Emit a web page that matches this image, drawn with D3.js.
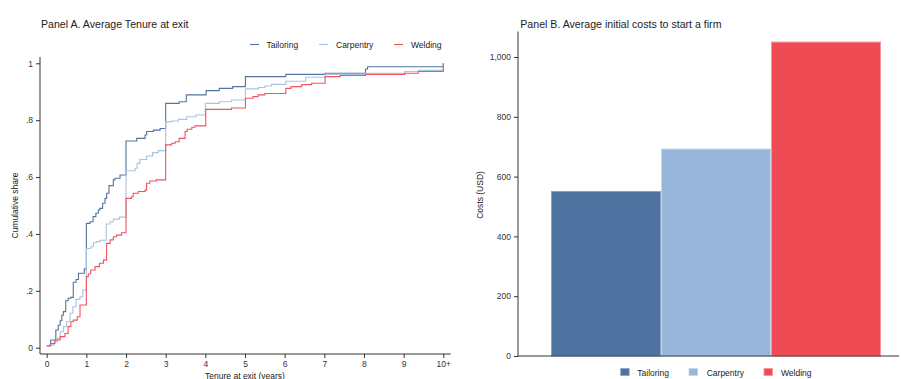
<!DOCTYPE html>
<html>
<head>
<meta charset="utf-8">
<script src="https://cdn.jsdelivr.net/npm/d3@7"></script>
<style>
  body { margin: 0; background: #fff; }
  svg { display: block; font-family: "Liberation Sans", Arial, sans-serif; }
</style>
</head>
<body>
<svg id="chart" width="901" height="379"></svg>
<script>
// Sectors and their colours
const sectors = ["Tailoring", "Carpentry", "Welding"];
const fillColors = ["#4e73a0", "#97b6d9", "#ef4b55"];
const lineColors = ["#52749f", "#a9c3e2", "#f0545c"];
const edgeColors = ["#8aa3c3", "#c4d6ec", "#f7959a"];

// Panel A: cumulative share of firms exited by tenure (years), step points [tenure, share]
const tailoringExit = [
  [0, 0.007], [0.10, 0.027], [0.23, 0.062], [0.29, 0.079], [0.34, 0.095], [0.38, 0.114],
  [0.42, 0.127], [0.48, 0.165], [0.54, 0.174], [0.61, 0.177], [0.67, 0.230], [0.74, 0.240],
  [0.80, 0.262], [0.95, 0.277], [1.00, 0.437], [1.09, 0.443], [1.17, 0.461], [1.24, 0.473],
  [1.30, 0.484], [1.34, 0.490], [1.41, 0.508], [1.47, 0.525], [1.51, 0.543], [1.57, 0.570],
  [1.68, 0.590], [1.72, 0.596], [1.85, 0.607], [2.00, 0.727], [2.27, 0.736], [2.48, 0.748],
  [2.52, 0.760], [2.69, 0.765], [2.86, 0.771], [3.00, 0.859], [3.34, 0.865], [3.52, 0.889],
  [4.02, 0.904], [4.35, 0.912], [4.69, 0.918], [5.01, 0.953], [6.03, 0.961], [7.02, 0.965],
  [8.04, 0.980], [8.09, 0.988], [10.0, 1.0]
];
const carpentryExit = [
  [0, 0.005], [0.08, 0.010], [0.19, 0.021], [0.27, 0.033], [0.34, 0.056], [0.42, 0.074],
  [0.50, 0.091], [0.59, 0.121], [0.66, 0.144], [0.74, 0.170], [0.84, 0.179], [0.91, 0.203],
  [1.00, 0.349], [1.11, 0.355], [1.18, 0.369], [1.25, 0.373], [1.34, 0.378], [1.50, 0.435],
  [1.60, 0.443], [1.68, 0.452], [1.83, 0.459], [2.00, 0.622], [2.23, 0.631], [2.28, 0.648],
  [2.35, 0.662], [2.52, 0.674], [2.67, 0.686], [2.81, 0.693], [3.00, 0.794], [3.15, 0.797],
  [3.32, 0.803], [3.53, 0.812], [3.76, 0.818], [4.00, 0.859], [4.35, 0.865], [4.66, 0.871],
  [5.01, 0.910], [5.34, 0.915], [5.50, 0.920], [5.67, 0.926], [6.03, 0.937], [6.53, 0.951],
  [7.02, 0.961], [8.04, 0.965], [9.03, 0.971], [9.37, 0.975], [10.0, 1.0]
];
const weldingExit = [
  [0, 0.007], [0.10, 0.015], [0.21, 0.027], [0.34, 0.039], [0.46, 0.050], [0.54, 0.074],
  [0.61, 0.091], [0.67, 0.097], [0.77, 0.109], [0.84, 0.150], [1.00, 0.250], [1.05, 0.259],
  [1.11, 0.273], [1.22, 0.285], [1.33, 0.297], [1.43, 0.308], [1.51, 0.367], [1.60, 0.379],
  [1.68, 0.390], [1.76, 0.396], [1.89, 0.404], [2.00, 0.525], [2.14, 0.531], [2.18, 0.543],
  [2.31, 0.549], [2.48, 0.554], [2.52, 0.578], [2.60, 0.586], [2.76, 0.590], [3.00, 0.713],
  [3.15, 0.719], [3.24, 0.724], [3.34, 0.736], [3.49, 0.760], [3.54, 0.768], [3.66, 0.775],
  [3.74, 0.780], [4.01, 0.838], [4.66, 0.843], [5.01, 0.877], [5.20, 0.883], [5.33, 0.889],
  [5.50, 0.894], [6.03, 0.912], [6.16, 0.918], [6.43, 0.925], [6.68, 0.930], [7.02, 0.953],
  [7.40, 0.957], [8.04, 0.961], [9.03, 0.965], [9.37, 0.971], [10.0, 1.0]
];
const tenureTicks = [0, 1, 2, 3, 4, 5, 6, 7, 8, 9, 10];
const tenureTickLabels = ["0", "1", "2", "3", "4", "5", "6", "7", "8", "9", "10+"];
const shareTicks = [0, 0.2, 0.4, 0.6, 0.8, 1];
const shareTickLabels = ["0", ".2", ".4", ".6", ".8", "1"];

// Panel B: average initial costs (USD)
const startupCosts = [550, 692, 1050];
const costTicks = [0, 200, 400, 600, 800, 1000];
const costTickLabels = ["0", "200", "400", "600", "800", "1,000"];

const svg = d3.select("#chart");
const axisColor = "#333";
const textColor = "#222";
const tickFont = "8.5px";

// ---------- Panel A ----------
const xA = d3.scaleLinear().domain([0, 10]).range([46.7, 443.3]);
const yA = d3.scaleLinear().domain([0, 1]).range([347.7, 63.3]);
const gA = svg.append("g");

gA.append("text").attr("x", 41).attr("y", 27.5)
  .attr("font-size", "10.6px").attr("fill", textColor)
  .text("Panel A. Average Tenure at exit");

// axes
const xAxisA = gA.append("g").attr("transform", "translate(0,354)")
  .call(d3.axisBottom(xA).tickValues(tenureTicks).tickSize(4).tickPadding(3)
    .tickFormat((d, i) => tenureTickLabels[i]));
const yAxisA = gA.append("g").attr("transform", "translate(40,0)")
  .call(d3.axisLeft(yA).tickValues(shareTicks).tickSize(4).tickPadding(3)
    .tickFormat((d, i) => shareTickLabels[i]));
[xAxisA, yAxisA].forEach(a => {
  a.select(".domain").remove();
  a.selectAll("line").attr("stroke", axisColor);
  a.selectAll("text").attr("fill", axisColor).attr("font-size", tickFont)
    .attr("font-family", "Liberation Sans, Arial, sans-serif");
});
gA.append("line").attr("x1", 40).attr("x2", 450.5).attr("y1", 354).attr("y2", 354)
  .attr("stroke", axisColor);
gA.append("line").attr("x1", 40).attr("x2", 40).attr("y1", 57).attr("y2", 354)
  .attr("stroke", axisColor);

gA.append("text").attr("x", 245).attr("y", 378.5).attr("text-anchor", "middle")
  .attr("font-size", tickFont).attr("fill", textColor).text("Tenure at exit (years)");
gA.append("text").attr("transform", "translate(18,205.5) rotate(-90)")
  .attr("text-anchor", "middle").attr("font-size", tickFont).attr("fill", textColor)
  .text("Cumulative share");

// step curves
const stepLine = d3.line().x(d => xA(d[0])).y(d => yA(d[1])).curve(d3.curveStepAfter);
[tailoringExit, carpentryExit, weldingExit].forEach((series, i) => {
  gA.append("path").attr("d", stepLine(series)).attr("fill", "none")
    .attr("stroke", lineColors[i]).attr("stroke-width", 1.1);
});

// legend
const legendA = [{ x: 250, tx: 266.5 }, { x: 319, tx: 336 }, { x: 394, tx: 411 }];
sectors.forEach((s, i) => {
  gA.append("line").attr("x1", legendA[i].x).attr("x2", legendA[i].x + 9)
    .attr("y1", 44.5).attr("y2", 44.5).attr("stroke", lineColors[i]).attr("stroke-width", 1.1);
  gA.append("text").attr("x", legendA[i].tx).attr("y", 47.5)
    .attr("font-size", tickFont).attr("fill", textColor).text(s);
});

// ---------- Panel B ----------
const xB = d3.scaleBand().domain(sectors).range([551, 881]).paddingInner(0).paddingOuter(0);
const yB = d3.scaleLinear().domain([0, 1000]).range([356, 57]);
const gB = svg.append("g");

gB.append("text").attr("x", 520.3).attr("y", 27.5)
  .attr("font-size", "10.6px").attr("fill", textColor)
  .text("Panel B. Average initial costs to start a firm");

gB.selectAll("rect.bar").data(sectors).join("rect").attr("class", "bar")
  .attr("x", d => xB(d) + 0.5)
  .attr("width", xB.bandwidth() - 1)
  .attr("y", (d, i) => yB(startupCosts[i]))
  .attr("height", (d, i) => yB(0) - yB(startupCosts[i]))
  .attr("fill", (d, i) => fillColors[i])
  .attr("stroke", (d, i) => edgeColors[i])
  .attr("stroke-width", 1);

const yAxisB = gB.append("g").attr("transform", "translate(518,0)")
  .call(d3.axisLeft(yB).tickValues(costTicks).tickSize(4).tickPadding(3)
    .tickFormat((d, i) => costTickLabels[i]));
yAxisB.select(".domain").remove();
yAxisB.selectAll("line").attr("stroke", axisColor);
yAxisB.selectAll("text").attr("fill", axisColor).attr("font-size", tickFont)
  .attr("font-family", "Liberation Sans, Arial, sans-serif");
gB.append("line").attr("x1", 518).attr("x2", 518).attr("y1", 31.5).attr("y2", 356)
  .attr("stroke", axisColor);
gB.append("line").attr("x1", 518).attr("x2", 899).attr("y1", 356).attr("y2", 356)
  .attr("stroke", axisColor);

gB.append("text").attr("transform", "translate(483,195) rotate(-90)")
  .attr("text-anchor", "middle").attr("font-size", tickFont).attr("fill", textColor)
  .text("Costs (USD)");

// legend
const legendB = [{ x: 620.7, tx: 637.3 }, { x: 689, tx: 706.7 }, { x: 764, tx: 781 }];
sectors.forEach((s, i) => {
  gB.append("rect").attr("x", legendB[i].x).attr("y", 368.5).attr("width", 8.5).attr("height", 7)
    .attr("fill", fillColors[i]).attr("stroke", edgeColors[i]).attr("stroke-width", 0.8);
  gB.append("text").attr("x", legendB[i].tx).attr("y", 375.5)
    .attr("font-size", tickFont).attr("fill", textColor).text(s);
});
</script>
</body>
</html>
